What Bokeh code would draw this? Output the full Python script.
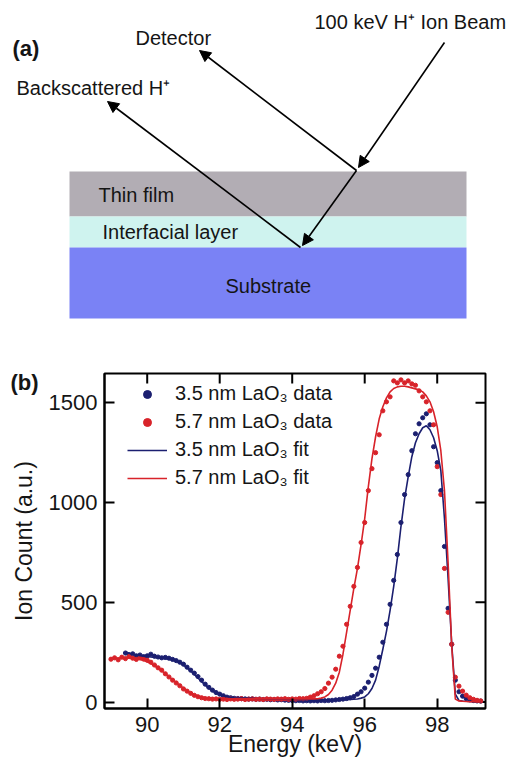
from bokeh.plotting import figure
from bokeh.models import (Range1d, FixedTicker, Legend, LegendItem, Title,
                          Arrow, NormalHead, ColumnDataSource)
from bokeh.embed import file_html
from bokeh.resources import INLINE
from bokeh.core.properties import value

FONT = "Liberation Sans"

# ---------------- Panel (a): schematic ----------------
layer_names = ["Thin film", "Interfacial layer", "Substrate"]
layer_colors = ["#b2adb4", "#cff3ef", "#7a82f5"]
layer_left = [69, 69, 69]
layer_right = [466, 466, 466]
layer_top = [171, 216, 247]
layer_bottom = [216, 247, 318]
layer_label_x = [98, 102, 225]
layer_label_y = [194, 231, 285]

arrow_x_start = [444, 356, 356, 300]
arrow_y_start = [42, 170, 170, 247]
arrow_x_end = [358, 302, 199, 107]
arrow_y_end = [167, 245, 50, 101]

beam_labels = ["100 keV H\u207a Ion Beam", "Detector", "Backscattered H\u207a"]
beam_label_x = [314, 135, 16]
beam_label_y = [21, 37, 87]

# ---------------- Panel (b): data ----------------
energy_keV = [
    89.0, 89.1, 89.2, 89.3, 89.4, 89.5, 89.6, 89.7, 89.8, 89.9,
    90.0, 90.1, 90.2, 90.3, 90.4, 90.5, 90.6, 90.7, 90.8, 90.9,
    91.0, 91.1, 91.2, 91.3, 91.4, 91.5, 91.6, 91.7, 91.8, 91.9,
    92.0, 92.1, 92.2, 92.3, 92.4, 92.5, 92.6, 92.7, 92.8, 92.9,
    93.0, 93.1, 93.2, 93.3, 93.4, 93.5, 93.6, 93.7, 93.8, 93.9,
    94.0, 94.1, 94.2, 94.3, 94.4, 94.5, 94.6, 94.7, 94.8, 94.9,
    95.0, 95.1, 95.2, 95.3, 95.4, 95.5, 95.6, 95.7, 95.8, 95.9,
    96.0, 96.1, 96.2, 96.3, 96.4, 96.5, 96.6, 96.7, 96.8, 96.9,
    97.0, 97.1, 97.2, 97.3, 97.4, 97.5, 97.6, 97.7, 97.8, 97.9,
    98.0, 98.1, 98.2, 98.3, 98.4, 98.5, 98.6, 98.7, 98.8, 98.9,
    99.0, 99.1, 99.2]
energy_blue = energy_keV[4:]   # 3.5 nm spectrum starts at 89.4 keV

counts_57_data = [
    215, 222, 212, 225, 218, 228, 220, 214, 222, 216,
    210, 200, 186, 172, 160, 142, 126, 110, 96, 82,
    66, 55, 44, 34, 27, 22, 18, 17, 15, 16,
    14, 15, 13, 16, 14, 15, 17, 13, 15, 16,
    14, 15, 13, 16, 15, 14, 16, 15, 17, 14,
    16, 15, 18, 17, 19, 25, 32, 42, 52, 68,
    95, 125, 165, 230, 280, 390, 480, 580, 675, 800,
    900, 1060, 1170, 1250, 1340, 1460, 1505, 1530, 1610, 1600,
    1615, 1600, 1610, 1595, 1588, 1560, 1530, 1505, 1460, 1390,
    1180, 1040, 670, 450, 290, 125, 80, 55, 35, 22,
    14, 9, 6]

counts_35_data = [
    246, 238, 242, 232, 236, 228,
    232, 240, 230, 226, 222, 224, 220, 214, 208, 200,
    190, 175, 160, 145, 128, 110, 90, 74, 60, 48,
    40, 32, 25, 22, 19, 18, 17, 16, 15, 16,
    14, 15, 13, 14, 12, 13, 11, 12, 10, 9,
    8, 7, 8, 6, 7, 6, 7, 6, 8, 7,
    8, 9, 11, 13, 15, 18, 22, 28, 40, 52,
    70, 100, 134, 170, 225, 300, 390, 490, 610, 740,
    900, 1040, 1140, 1260, 1345, 1395, 1425, 1445, 1390, 1280,
    1200, 1060, 780, 470, 290, 110, 52, 30, 18, 12,
    8, 6, 5]

counts_57_fit = [
    220, 220, 221, 221, 221, 220, 219, 217, 214, 209,
    202, 193, 182, 170, 157, 143, 128, 113, 98, 84,
    70, 58, 47, 38, 31, 26, 22, 20, 18, 17,
    17, 16, 16, 16, 16, 16, 16, 16, 16, 16,
    16, 16, 16, 16, 16, 16, 16, 16, 16, 16,
    16, 16, 16, 16, 16, 16, 16, 17, 20, 26,
    38, 60, 95, 150, 240, 350, 460, 570, 670, 790,
    920, 1080, 1220, 1330, 1420, 1480, 1525, 1555, 1572, 1580,
    1583, 1583, 1580, 1575, 1570, 1565, 1555, 1535, 1505, 1455,
    1380, 1260, 1060, 700, 280, 15, 6, 4, 3, 2,
    2, 1, 1]

counts_35_fit = [
    252, 245, 240, 236, 233, 230,
    228, 226, 224, 222, 220, 218, 215, 211, 205, 197,
    186, 172, 156, 139, 121, 103, 86, 70, 56, 45,
    37, 31, 27, 24, 22, 21, 20, 20, 19, 19,
    17, 17, 16, 16, 15, 15, 15, 14, 14, 13,
    13, 13, 12, 12, 12, 12, 11, 11, 11, 11,
    11, 11, 11, 11, 12, 12, 13, 14, 16, 20,
    26, 42, 68, 110, 180, 265, 355, 460, 580, 720,
    880, 1020, 1130, 1230, 1300, 1345, 1375, 1385, 1365, 1325,
    1260, 1160, 920, 620, 290, 40, 8, 5, 4, 3,
    2, 2, 1]

x_ticks = [90, 92, 94, 96, 98]
y_ticks = [0, 500, 1000, 1500]
x_min, x_max = 88.822, 99.332
y_min, y_max = -32, 1647
series_labels = ["3.5 nm LaO\u2083 data", "5.7 nm LaO\u2083 data",
                 "3.5 nm LaO\u2083 fit", "5.7 nm LaO\u2083 fit"]
BLUE = "#1b1f70"
RED = "#d8232a"
TXT = "#151515"

# ---------------- figure (a) ----------------
pa = figure(width=511, height=338, x_range=Range1d(0, 511), y_range=Range1d(338, 0),
            output_backend="svg", toolbar_location=None, min_border=0,
            x_axis_location=None, y_axis_location=None)
pa.xgrid.visible = False
pa.ygrid.visible = False
pa.outline_line_color = None

pa.quad(left=layer_left, right=layer_right, top=layer_top, bottom=layer_bottom,
        fill_color=layer_colors, line_color=None)

arrow_src = ColumnDataSource(dict(x0=arrow_x_start, y0=arrow_y_start,
                                  x1=arrow_x_end, y1=arrow_y_end))
pa.add_layout(Arrow(end=NormalHead(size=11, fill_color="black", line_color="black", line_width=1),
                    x_start="x0", y_start="y0", x_end="x1", y_end="y1",
                    source=arrow_src, line_width=1.6, line_color="black"))

pa.text(x=layer_label_x, y=layer_label_y, text=layer_names, text_baseline="middle",
        text_align="left", text_font=value(FONT), text_font_size="20px", text_color=TXT)
pa.text(x=beam_label_x, y=beam_label_y, text=beam_labels, text_baseline="middle",
        text_align="left", text_font=value(FONT), text_font_size="20px", text_color=TXT)
pa.text(x=[12], y=[48], text=["(a)"], text_baseline="middle", text_align="left",
        text_font=value(FONT), text_font_size="22px", text_font_style="bold", text_color=TXT)

# ---------------- figure (b) ----------------
p = figure(width=511, height=425, x_range=Range1d(x_min, x_max), y_range=Range1d(y_min, y_max),
           output_backend="svg", toolbar_location=None,
           min_border_left=104, min_border_right=26, min_border_top=35, min_border_bottom=55,
           x_axis_label="Energy (keV)", y_axis_label="Ion Count (a.u.)")
p.xgrid.visible = False
p.ygrid.visible = False
p.outline_line_color = "black"
p.outline_line_width = 2
p.xaxis.ticker = FixedTicker(ticks=x_ticks)
p.yaxis.ticker = FixedTicker(ticks=y_ticks)

for ax in p.axis:
    ax.major_tick_in = 10
    ax.major_tick_out = 0
    ax.minor_tick_in = 0
    ax.minor_tick_out = 0
    ax.major_tick_line_width = 2
    ax.axis_line_width = 2
    ax.axis_line_color = "black"
    ax.major_tick_line_color = "black"
    ax.major_label_text_font = FONT
    ax.major_label_text_font_size = "22px"
    ax.major_label_text_color = TXT
    ax.axis_label_text_font = FONT
    ax.axis_label_text_font_size = "23px"
    ax.axis_label_text_font_style = "normal"
    ax.axis_label_text_color = TXT

p.xaxis.major_label_standoff = 8
p.xaxis.axis_label_standoff = -4
p.yaxis.major_label_standoff = 7
p.yaxis.axis_label_standoff = 9

# mirrored inward ticks on the top and right frame edges
p.ray(x=x_ticks, y=[y_max] * len(x_ticks), length=10, length_units="screen",
      angle=-90, angle_units="deg", line_width=2, line_color="black")
p.ray(x=[x_max] * len(y_ticks), y=y_ticks, length=10, length_units="screen",
      angle=180, angle_units="deg", line_width=2, line_color="black")

r_bd = p.scatter(energy_blue, counts_35_data, size=4.2, color=BLUE, marker="circle")
r_rd = p.scatter(energy_keV, counts_57_data, size=4.2, color=RED, marker="circle")
r_bf = p.line(energy_blue, counts_35_fit, line_width=1.6, color=BLUE)
r_rf = p.line(energy_keV, counts_57_fit, line_width=1.6, color=RED)

legend = Legend(items=[LegendItem(label=series_labels[0], renderers=[r_bd]),
                       LegendItem(label=series_labels[1], renderers=[r_rd]),
                       LegendItem(label=series_labels[2], renderers=[r_bf]),
                       LegendItem(label=series_labels[3], renderers=[r_rf])],
                location=(23, 219), glyph_width=40, glyph_height=20, label_standoff=8,
                spacing=5, padding=0, margin=0, border_line_color=None,
                background_fill_alpha=0, label_text_font=FONT, label_text_font_size="20px",
                label_text_color=TXT)
p.add_layout(legend)

p.add_layout(Title(text="(b)", align="left", offset=-94, standoff=-43, vertical_align="bottom",
                   text_font=FONT, text_font_size="22px", text_font_style="bold",
                   text_color=TXT), "above")

open("out.html", "w").write(file_html([pa, p], INLINE))
